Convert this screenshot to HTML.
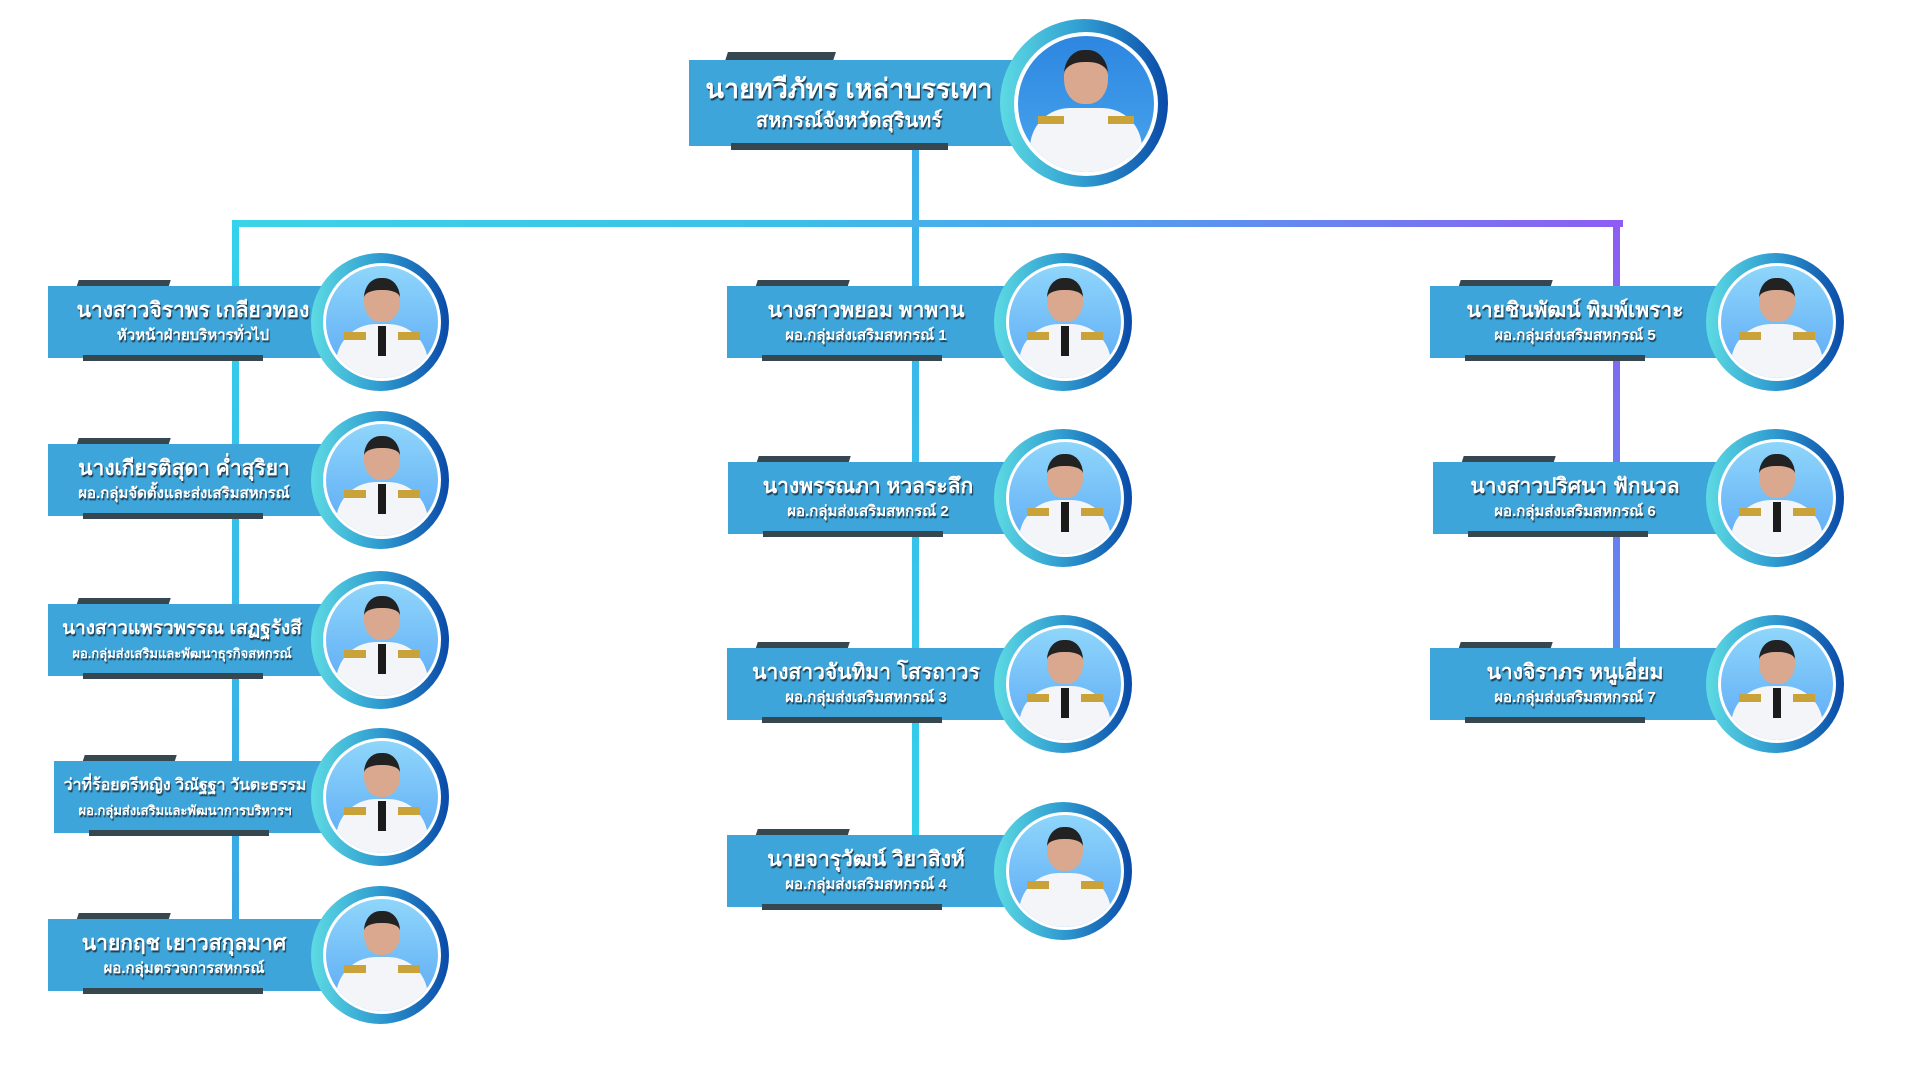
<!DOCTYPE html>
<html><head><meta charset="utf-8"><style>
*{margin:0;padding:0;box-sizing:border-box}
body{width:1920px;height:1080px;background:#fff;position:relative;overflow:hidden;font-family:"Liberation Sans","DejaVu Sans",sans-serif}
.ln{position:absolute}
.card{position:absolute;height:84px}
.tab{position:absolute;left:28px;top:0;width:92px;height:17px;background:#36474f;transform:skewX(-18deg)}
.box{position:absolute;left:0;top:6px;height:72px;background:#3da5d9}
.bar{position:absolute;left:35px;top:75px;width:180px;height:6px;background:#36474f}
.txt{position:absolute;top:6px;height:72px;left:0;display:flex;flex-direction:column;justify-content:center;align-items:center;color:#fff;text-shadow:1px 2px 1px #1d3c52;white-space:nowrap}
.n{font-size:21px;font-weight:bold;line-height:28px}
.s{font-size:15px;font-weight:bold;line-height:22px}
.c{position:absolute;width:138px;height:138px;top:-27px;border-radius:50%;background:linear-gradient(90deg,#5ddbe3,#2f9bd0 50%,#0a4aa8)}
.w{position:absolute;left:12px;top:10px;width:118px;height:118px;border-radius:50%;background:#fff}
.p{position:absolute;left:3px;top:3px;width:112px;height:112px;border-radius:50%;overflow:hidden;background:linear-gradient(180deg,#8fd6fb,#5aa8f5)}
.hd{position:absolute;left:38px;top:12px;width:36px;height:44px;border-radius:45%;background:#d9a88e;border-top:12px solid #222}
.bd{position:absolute;left:10px;top:58px;width:92px;height:70px;border-radius:40px 40px 0 0;background:#f3f5f8}
.tie{position:absolute;left:52px;top:60px;width:8px;height:30px;background:#1b1b1b}
.ep1,.ep2{position:absolute;top:66px;width:22px;height:8px;background:#c9a23a}
.ep1{left:18px}.ep2{left:72px}
</style></head><body>

<div class="ln" style="left:912px;top:146px;width:7px;height:690px;background:linear-gradient(#3daee9,#33d0ea)"></div>
<div class="ln" style="left:233px;top:220px;width:1390px;height:7px;background:linear-gradient(90deg,#3dd3e8,#3dbfe8 40%,#5b93ef 70%,#8e5cf3)"></div>
<div class="ln" style="left:232px;top:220px;width:7px;height:700px;background:linear-gradient(#34d2ec,#3aa6e3)"></div>
<div class="ln" style="left:1613px;top:220px;width:7px;height:432px;background:linear-gradient(#8e5cf3,#5a8cef)"></div>

<div class="card" style="left:689px;top:52px;width:480px;height:110px">
<div class="tab" style="left:36px;width:108px;height:18px"></div>
<div class="box" style="top:8px;width:395px;height:86px"></div>
<div class="bar" style="left:42px;top:91px;width:217px;height:7px"></div>
<div class="txt" style="top:8px;height:86px;width:320px"><div class="n" style="font-size:27px;line-height:36px">นายทวีภัทร เหล่าบรรเทา</div><div class="s" style="font-size:20px;line-height:28px">สหกรณ์จังหวัดสุรินทร์</div></div>
<div class="c" style="left:311px;top:-33px;width:168px;height:168px"><div class="w" style="left:14px;top:13px;width:144px;height:144px"><div class="p" style="width:136px;height:136px;left:4px;top:4px;background:linear-gradient(180deg,#2d86e0,#4aa6ee)"><div class="hd" style="left:46px;top:14px;width:44px;height:54px"></div><div class="bd" style="left:12px;top:72px;width:112px"></div><div class="ep1" style="left:20px;top:80px;width:26px"></div><div class="ep2" style="left:90px;top:80px;width:26px"></div></div></div></div>
</div>

<div class="card" style="left:48px;top:280px"><div class="tab"></div><div class="box" style="width:332px"></div><div class="bar"></div><div class="txt" style="width:290px"><div class="n">นางสาวจิราพร  เกลียวทอง</div><div class="s">หัวหน้าฝ่ายบริหารทั่วไป</div></div><div class="c" style="left:263px"><div class="w"><div class="p"><div class="hd"></div><div class="bd"></div><div class="tie"></div><div class="ep1"></div><div class="ep2"></div></div></div></div></div>

<div class="card" style="left:48px;top:438px"><div class="tab"></div><div class="box" style="width:332px"></div><div class="bar"></div><div class="txt" style="width:272px"><div class="n">นางเกียรติสุดา ค่ำสุริยา</div><div class="s">ผอ.กลุ่มจัดตั้งและส่งเสริมสหกรณ์</div></div><div class="c" style="left:263px"><div class="w"><div class="p"><div class="hd"></div><div class="bd"></div><div class="tie"></div><div class="ep1"></div><div class="ep2"></div></div></div></div></div>

<div class="card" style="left:48px;top:598px"><div class="tab"></div><div class="box" style="width:332px"></div><div class="bar"></div><div class="txt" style="width:268px"><div class="n" style="font-size:19px">นางสาวแพรวพรรณ เสฏฐรังสี</div><div class="s" style="font-size:13px">ผอ.กลุ่มส่งเสริมและพัฒนาธุรกิจสหกรณ์</div></div><div class="c" style="left:263px"><div class="w"><div class="p"><div class="hd"></div><div class="bd"></div><div class="tie"></div><div class="ep1"></div><div class="ep2"></div></div></div></div></div>

<div class="card" style="left:54px;top:755px"><div class="tab"></div><div class="box" style="width:326px"></div><div class="bar"></div><div class="txt" style="width:262px"><div class="n" style="font-size:16px">ว่าที่ร้อยตรีหญิง วิณัฐฐา วันตะธรรม</div><div class="s" style="font-size:13px">ผอ.กลุ่มส่งเสริมและพัฒนาการบริหารฯ</div></div><div class="c" style="left:257px"><div class="w"><div class="p"><div class="hd"></div><div class="bd"></div><div class="tie"></div><div class="ep1"></div><div class="ep2"></div></div></div></div></div>

<div class="card" style="left:48px;top:913px"><div class="tab"></div><div class="box" style="width:332px"></div><div class="bar"></div><div class="txt" style="width:272px"><div class="n">นายกฤช เยาวสกุลมาศ</div><div class="s">ผอ.กลุ่มตรวจการสหกรณ์</div></div><div class="c" style="left:263px"><div class="w"><div class="p"><div class="hd"></div><div class="bd"></div><div class="ep1"></div><div class="ep2"></div></div></div></div></div>

<div class="card" style="left:727px;top:280px"><div class="tab"></div><div class="box" style="width:336px"></div><div class="bar"></div><div class="txt" style="width:278px"><div class="n">นางสาวพยอม พาพาน</div><div class="s">ผอ.กลุ่มส่งเสริมสหกรณ์ 1</div></div><div class="c" style="left:267px"><div class="w"><div class="p"><div class="hd"></div><div class="bd"></div><div class="tie"></div><div class="ep1"></div><div class="ep2"></div></div></div></div></div>

<div class="card" style="left:728px;top:456px"><div class="tab"></div><div class="box" style="width:335px"></div><div class="bar"></div><div class="txt" style="width:280px"><div class="n">นางพรรณภา หวลระลึก</div><div class="s">ผอ.กลุ่มส่งเสริมสหกรณ์ 2</div></div><div class="c" style="left:266px"><div class="w"><div class="p"><div class="hd"></div><div class="bd"></div><div class="tie"></div><div class="ep1"></div><div class="ep2"></div></div></div></div></div>

<div class="card" style="left:727px;top:642px"><div class="tab"></div><div class="box" style="width:336px"></div><div class="bar"></div><div class="txt" style="width:278px"><div class="n">นางสาวจันทิมา โสรถาวร</div><div class="s">ผอ.กลุ่มส่งเสริมสหกรณ์ 3</div></div><div class="c" style="left:267px"><div class="w"><div class="p"><div class="hd"></div><div class="bd"></div><div class="tie"></div><div class="ep1"></div><div class="ep2"></div></div></div></div></div>

<div class="card" style="left:727px;top:829px"><div class="tab"></div><div class="box" style="width:336px"></div><div class="bar"></div><div class="txt" style="width:278px"><div class="n">นายจารุวัฒน์ วิยาสิงห์</div><div class="s">ผอ.กลุ่มส่งเสริมสหกรณ์ 4</div></div><div class="c" style="left:267px"><div class="w"><div class="p"><div class="hd"></div><div class="bd"></div><div class="ep1"></div><div class="ep2"></div></div></div></div></div>

<div class="card" style="left:1430px;top:280px"><div class="tab"></div><div class="box" style="width:345px"></div><div class="bar"></div><div class="txt" style="width:290px"><div class="n">นายชินพัฒน์ พิมพ์เพราะ</div><div class="s">ผอ.กลุ่มส่งเสริมสหกรณ์ 5</div></div><div class="c" style="left:276px"><div class="w"><div class="p"><div class="hd"></div><div class="bd"></div><div class="ep1"></div><div class="ep2"></div></div></div></div></div>

<div class="card" style="left:1433px;top:456px"><div class="tab"></div><div class="box" style="width:342px"></div><div class="bar"></div><div class="txt" style="width:284px"><div class="n">นางสาวปริศนา ฟักนวล</div><div class="s">ผอ.กลุ่มส่งเสริมสหกรณ์ 6</div></div><div class="c" style="left:273px"><div class="w"><div class="p"><div class="hd"></div><div class="bd"></div><div class="tie"></div><div class="ep1"></div><div class="ep2"></div></div></div></div></div>

<div class="card" style="left:1430px;top:642px"><div class="tab"></div><div class="box" style="width:345px"></div><div class="bar"></div><div class="txt" style="width:290px"><div class="n">นางจิราภร หนูเอี่ยม</div><div class="s">ผอ.กลุ่มส่งเสริมสหกรณ์ 7</div></div><div class="c" style="left:276px"><div class="w"><div class="p"><div class="hd"></div><div class="bd"></div><div class="tie"></div><div class="ep1"></div><div class="ep2"></div></div></div></div></div>

</body></html>
